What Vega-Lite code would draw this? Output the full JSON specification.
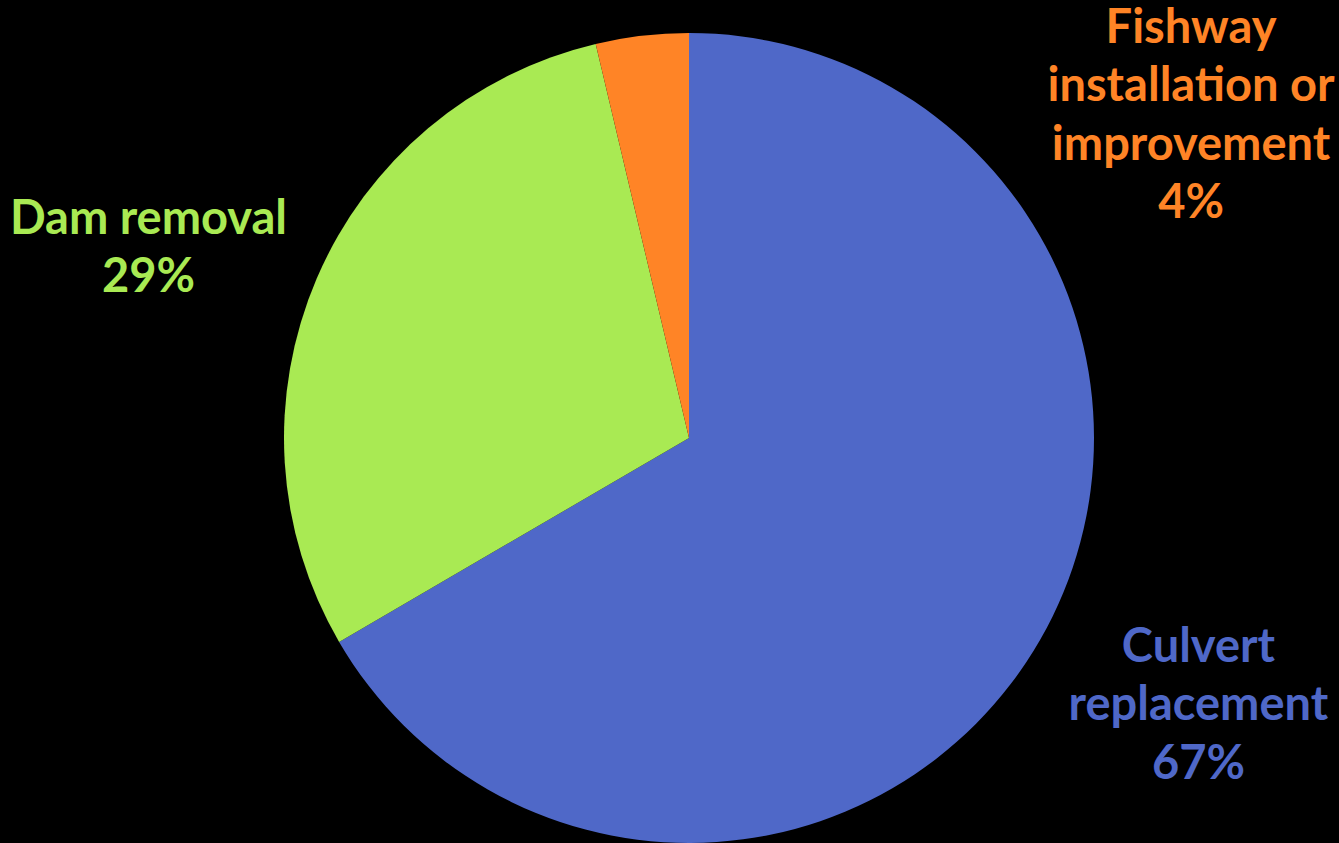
{
  "$schema": "https://vega.github.io/schema/vega-lite/v6.json",
  "width": 1300,
  "height": 810,
  "padding": {"left": 39, "top": 33, "right": 0, "bottom": 0},
  "autosize": {"type": "none"},
  "background": "#000000",
  "config": {"view": {"stroke": null}},
  "data": {
    "values": [
      {"category": "Culvert replacement", "share": 66.6, "label": "Culvert\nreplacement\n67%"},
      {"category": "Dam removal", "share": 29.7, "label": "Dam removal\n29%"},
      {"category": "Fishway installation or improvement", "share": 3.7, "label": "Fishway\ninstallation or\nimprovement\n4%"}
    ]
  },
  "transform": [
    {"stack": "share", "groupby": [], "sort": [{"field": "category", "order": "ascending"}], "as": ["s0", "s1"]}
  ],
  "encoding": {
    "color": {
      "field": "category",
      "type": "nominal",
      "scale": {
        "domain": ["Culvert replacement", "Dam removal", "Fishway installation or improvement"],
        "range": ["#4F68C8", "#A9EA53", "#FF8426"]
      },
      "legend": null
    }
  },
  "layer": [
    {
      "mark": {"type": "arc", "stroke": null},
      "encoding": {
        "theta": {"field": "s0", "type": "quantitative", "scale": {"domain": [0, 100]}},
        "theta2": {"field": "s1"}
      }
    },
    {
      "mark": {"type": "text", "radius": 576, "dx": 10, "dy": -77, "font": "Lato", "fontWeight": "bold", "fontSize": 47, "lineHeight": 58.5, "lineBreak": "\n", "align": "center", "baseline": "middle"},
      "encoding": {
        "theta": {"field": "share", "type": "quantitative", "stack": true},
        "order": {"field": "s0", "type": "quantitative"},
        "text": {"condition": {"test": "datum.category === 'Culvert replacement'", "field": "label"}, "value": ""}
      }
    },
    {
      "mark": {"type": "text", "radius": 574, "dx": -13, "dy": 8, "font": "Lato", "fontWeight": "bold", "fontSize": 47, "lineHeight": 58.5, "lineBreak": "\n", "align": "center", "baseline": "middle"},
      "encoding": {
        "theta": {"field": "share", "type": "quantitative", "stack": true},
        "order": {"field": "s0", "type": "quantitative"},
        "text": {"condition": {"test": "datum.category === 'Dam removal'", "field": "label"}, "value": ""}
      }
    },
    {
      "mark": {"type": "text", "radius": 405, "dx": 549, "dy": -7, "font": "Lato", "fontWeight": "bold", "fontSize": 47, "lineHeight": 58.5, "lineBreak": "\n", "align": "center", "baseline": "middle"},
      "encoding": {
        "theta": {"field": "share", "type": "quantitative", "stack": true},
        "order": {"field": "s0", "type": "quantitative"},
        "text": {"condition": {"test": "datum.category === 'Fishway installation or improvement'", "field": "label"}, "value": ""}
      }
    }
  ]
}
